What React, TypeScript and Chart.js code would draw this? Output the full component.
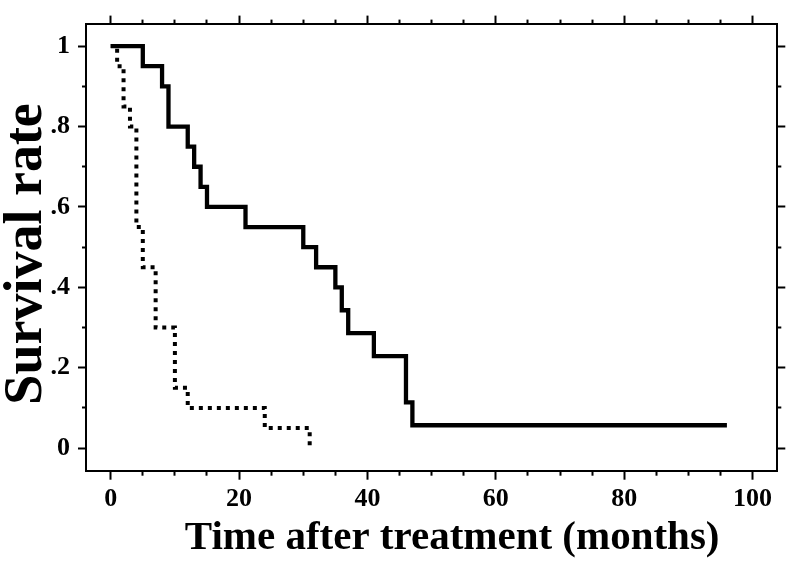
import React, { useEffect, useRef } from 'react';
import { Chart, registerables } from 'chart.js';

Chart.register(...registerables);

// ---- data ----
const solidTime = [0, 5, 8, 9, 12, 13, 14, 15, 21, 30, 32, 35, 36, 37, 41, 46, 47, 96];
const solidSurvival = [1, 0.95, 0.9, 0.8, 0.75, 0.7, 0.65, 0.6, 0.55, 0.5, 0.45, 0.4, 0.343, 0.286, 0.229, 0.114, 0.057, 0.057];
const dottedTime = [0, 1, 2, 3, 4, 5, 7, 10, 12, 24, 31];
const dottedSurvival = [1, 0.95, 0.85, 0.8, 0.55, 0.45, 0.3, 0.15, 0.1, 0.05, 0];

const xMajorTicks = [0, 20, 40, 60, 80, 100];
const xTickLabels = ['0', '20', '40', '60', '80', '100'];
const xMinorTicks = [5, 10, 15, 25, 30, 35, 45, 50, 55, 65, 70, 75, 85, 90, 95];
const yMajorTicks = [0, 0.2, 0.4, 0.6, 0.8, 1];
const yTickLabels = ['0', '.2', '.4', '.6', '.8', '1'];
const yMinorTicks = [0.1, 0.3, 0.5, 0.7, 0.9];

const xTitle = 'Time after treatment (months)';
const yTitle = 'Survival rate';

// ---- style ----
const FONT = '"Liberation Serif", "Times New Roman", Times, serif';
const X_MIN = -3.85;
const X_MAX = 103.85;
const Y_MIN = -0.056;
const Y_MAX = 1.056;

function makeAxis(opts: any) {
  const { position, values, tickLength, size, weight, labels, padding, title } = opts;
  const horizontal = position === 'top' || position === 'bottom';
  return {
    type: 'linear',
    axis: horizontal ? 'x' : 'y',
    position,
    weight,
    min: horizontal ? X_MIN : Y_MIN,
    max: horizontal ? X_MAX : Y_MAX,
    afterBuildTicks: (s: any) => {
      s.ticks = values.map((v: number) => ({ value: v }));
    },
    afterFit: (s: any) => {
      if (horizontal) s.height = size;
      else s.width = size;
    },
    grid: {
      display: true,
      drawOnChartArea: false,
      drawTicks: true,
      tickLength,
      tickWidth: 2,
      tickColor: '#000',
    },
    border: { display: true, color: '#000', width: 2 },
    ticks: {
      display: !!labels,
      autoSkip: false,
      maxRotation: 0,
      minRotation: 0,
      padding: padding ?? 0,
      color: '#000',
      font: { family: FONT, size: 26, weight: 'bold' },
      callback: (_v: any, i: number) => (labels ? labels[i] : ''),
    },
    title: title || { display: false },
  };
}

export default function App() {
  const ref = useRef<HTMLCanvasElement | null>(null);

  useEffect(() => {
    document.body.style.margin = '0';
    const canvas = ref.current;
    if (!canvas) return;

    const chart = new Chart(canvas, {
      type: 'line',
      data: {
        datasets: [
          {
            label: 'Group A',
            data: solidTime.map((t, i) => ({ x: t, y: solidSurvival[i] })),
            borderColor: '#000',
            borderWidth: 4.3,
            stepped: true,
            pointRadius: 0,
            fill: false,
            borderCapStyle: 'butt',
            borderJoinStyle: 'miter',
            xAxisID: 'x',
            yAxisID: 'y',
          },
          {
            label: 'Group B',
            data: dottedTime.map((t, i) => ({ x: t, y: dottedSurvival[i] })),
            borderColor: '#000',
            borderWidth: 4,
            borderDash: [4, 5],
            stepped: true,
            pointRadius: 0,
            fill: false,
            borderCapStyle: 'butt',
            borderJoinStyle: 'miter',
            xAxisID: 'x',
            yAxisID: 'y',
          },
        ],
      },
      options: {
        responsive: false,
        animation: false,
        events: [],
        layout: { padding: 0 },
        plugins: {
          legend: { display: false },
          tooltip: { enabled: false },
          title: { display: false },
        },
        scales: {
          x: makeAxis({
            position: 'bottom', values: xMajorTicks, tickLength: 9, size: 94.3, weight: 1,
            labels: xTickLabels, padding: 4,
            title: {
              display: true, text: '    ' + xTitle, color: '#000',
              font: { family: FONT, size: 41, weight: 'bold', lineHeight: 1 },
              padding: { top: 0, bottom: 6 },
            },
          }),
          xMinor: makeAxis({ position: 'bottom', values: xMinorTicks, tickLength: 5, size: 0, weight: 0 }),
          xTop: makeAxis({ position: 'top', values: xMajorTicks, tickLength: 8, size: 12, weight: 1 }),
          xTopMinor: makeAxis({ position: 'top', values: xMinorTicks, tickLength: 4, size: 0, weight: 0 }),
          y: makeAxis({
            position: 'left', values: yMajorTicks, tickLength: 8, size: 86, weight: 1,
            labels: yTickLabels, padding: 8,
            title: {
              display: true, text: yTitle + ' ', color: '#000',
              font: { family: FONT, size: 54, weight: 'bold', lineHeight: 1 },
              padding: { top: 0, bottom: 0 },
            },
          }),
          yMinor: makeAxis({ position: 'left', values: yMinorTicks, tickLength: 4, size: 0, weight: 0 }),
          yRight: makeAxis({ position: 'right', values: yMajorTicks, tickLength: 8, size: 10.7, weight: 1 }),
          yRightMinor: makeAxis({ position: 'right', values: yMinorTicks, tickLength: 4, size: 0, weight: 0 }),
        } as any,
      },
    } as any);

    return () => {
      chart.destroy();
    };
  }, []);

  return (
    <div style={{ position: 'absolute', left: 0, top: 0, width: 788, height: 565, background: '#fff' }}>
      <canvas ref={ref} width={788} height={565} style={{ display: 'block' }} />
    </div>
  );
}
